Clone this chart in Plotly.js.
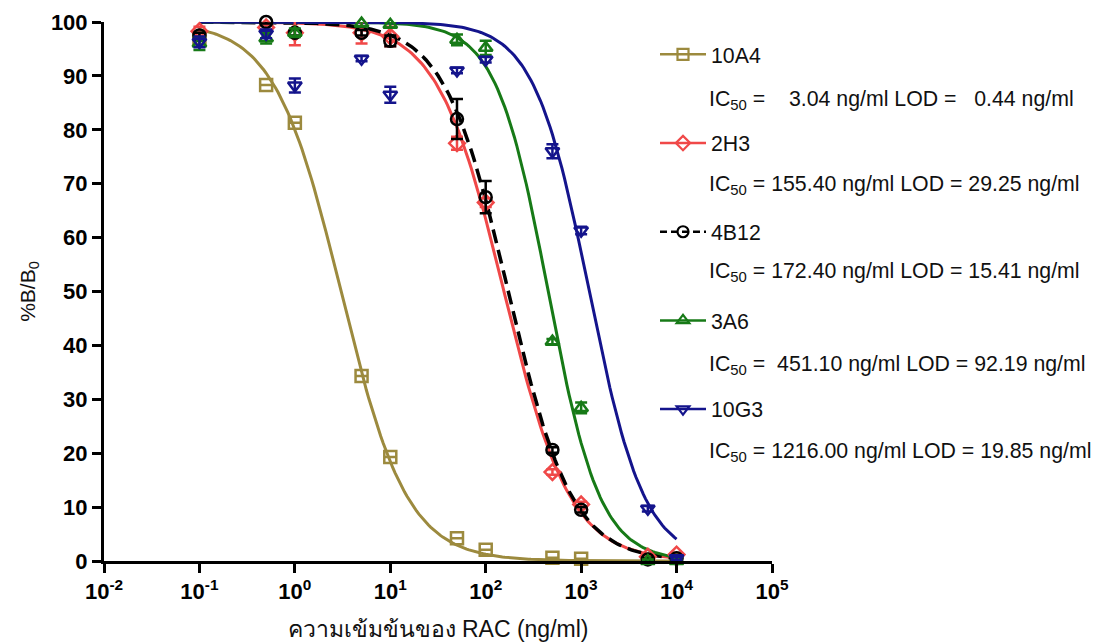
<!DOCTYPE html>
<html>
<head>
<meta charset="utf-8">
<script src="https://cdn.plot.ly/plotly-3.0.1.min.js"></script>
<style>html,body{margin:0;padding:0;background:#fff;}#chart{width:1105px;height:643px;}</style>
</head>
<body>
<div id="chart"></div>
<script>
// ---- data ----
var conc = [0.1, 0.5, 1, 5, 10, 50, 100, 500, 1000, 5000, 10000];
var names = ['10A4', '2H3', '4B12', '3A6', '10G3'];
var colors = ['#9c8a3e', '#f04848', '#000000', '#177a17', '#14148c'];
var symbols = ['square-open', 'diamond-open', 'circle-open', 'triangle-up-open', 'triangle-down-open'];
var dashes = ['solid', 'solid', 'dash', 'solid', 'solid'];

var y10A4 = [97.0, 88.3, 81.3, 34.3, 19.3, 4.2, 2.1, 0.6, 0.4, null, null];
var y2H3  = [98.3, 99.0, 98.0, 98.0, 97.3, 77.5, 66.5, 16.5, 10.5, 0.8, 1.2];
var y4B12 = [97.5, 100.0, 98.0, 98.0, 96.5, 82.0, 67.5, 20.6, 9.5, 0.3, 0.5];
var y3A6  = [96.0, 97.0, 98.0, 99.7, 99.5, 96.7, 95.2, 40.7, 28.4, 0.0, 0.0];
var y10G3 = [96.3, 97.8, 88.2, 93.2, 86.5, 91.0, 93.0, 76.0, 61.3, 9.7, 0.5];

var e10A4 = [0, 0, 0, 0, 0, 0, 0, 0, 0, 0, 0];
var e2H3  = [0.8, 0.5, 2.3, 2.0, 1.8, 1.2, 0.8, 0.5, 0.5, 0.3, 0.3];
var e4B12 = [0.5, 0.3, 0.5, 0.5, 1.0, 3.7, 3.0, 0.5, 0.5, 0.3, 0.3];
var e3A6  = [1.2, 1.0, 0.8, 0.5, 0.5, 1.0, 1.3, 0.5, 1.0, 0.3, 0.3];
var e10G3 = [1.0, 0.8, 1.3, 0.5, 1.5, 0.5, 0.5, 1.3, 0.7, 0.5, 0.3];

// fitted four-parameter logistic curves (IC50 as stated on chart)
var ic50  = [3.04, 155.40, 172.40, 451.10, 1216.00];
var hill  = [1.25, 1.25, 1.3, 1.6, 1.5];
var topV  = [100, 100, 100, 100, 100];
var botV  = [0, 0, 0, 0, 0];
var icText = ['\u00a0\u00a0 3.04', '155.40', '172.40', '\u00a0451.10', '1216.00'];
var lodText = ['\u00a0 0.44', '29.25', '15.41', '92.19', '19.85'];

var xTickVals = [0.01, 0.1, 1, 10, 100, 1000, 10000, 100000];
var xTickText = ['10<sup>-2</sup>', '10<sup>-1</sup>', '10<sup>0</sup>', '10<sup>1</sup>', '10<sup>2</sup>', '10<sup>3</sup>', '10<sup>4</sup>', '10<sup>5</sup>'];
var yTickVals = [0, 10, 20, 30, 40, 50, 60, 70, 80, 90, 100];

var yData = [y10A4, y2H3, y4B12, y3A6, y10G3];
var eData = [e10A4, e2H3, e4B12, e3A6, e10G3];

// ---- build traces ----
var curveX = [];
for (var k = 0; k <= 200; k++) curveX.push(Math.pow(10, -1 + 5 * k / 200));

var traces = [];
for (var i = 0; i < names.length; i++) {
  var cy = curveX.map(function (x) {
    return botV[i] + (topV[i] - botV[i]) / (1 + Math.pow(x / ic50[i], hill[i]));
  });
  traces.push({
    x: curveX, y: cy, type: 'scatter', mode: 'lines',
    line: {color: colors[i], width: dashes[i] === 'dash' ? 3.5 : 3, dash: dashes[i] === 'dash' ? '14px,7px' : 'solid'},
    showlegend: false, hoverinfo: 'skip'
  });
}
for (var i = 0; i < names.length; i++) {
  traces.push({
    x: conc, y: yData[i], type: 'scatter', mode: 'markers',
    marker: {symbol: symbols[i], size: 12, color: colors[i], line: {width: 2.5, color: colors[i]}},
    error_y: {type: 'data', array: eData[i], visible: true, color: colors[i], thickness: 2.5, width: 6},
    cliponaxis: false, showlegend: false
  });
}
// legend entries
for (var i = 0; i < names.length; i++) {
  traces.push({
    x: [null], y: [null], type: 'scatter', mode: 'lines+markers', name: names[i],
    legendgroup: 'g' + i,
    line: {color: colors[i], width: 2.5, dash: dashes[i] === 'dash' ? '7px,4px' : 'solid'},
    marker: {symbol: symbols[i], size: 11, color: colors[i], line: {width: 2.2, color: colors[i]}}
  });
}

var icY = [100, 185, 272, 365, 452];
var annotations = [];
for (var i = 0; i < names.length; i++) {
  annotations.push({
    xref: 'paper', yref: 'paper', xanchor: 'left', yanchor: 'middle',
    x: (707 - 104) / 668, y: 1 - (icY[i] - 22) / 539,
    text: 'IC<sub>50</sub> = ' + icText[i] + ' ng/ml LOD = ' + lodText[i] + ' ng/ml',
    showarrow: false,
    font: {family: 'Liberation Sans, Arial, sans-serif', size: 21.3, color: '#111'}
  });
}

var layout = {
  width: 1105, height: 643,
  margin: {l: 104, r: 333, t: 22, b: 82},
  paper_bgcolor: '#fff', plot_bgcolor: '#fff',
  font: {family: 'Liberation Sans, Arial, sans-serif', color: '#000'},
  xaxis: {
    type: 'log', range: [-2, 5], tickmode: 'array', tickvals: xTickVals, ticktext: xTickText,
    showline: true, linewidth: 3, linecolor: '#000', ticks: 'outside', ticklen: 9, tickwidth: 3, tickcolor: '#000',
    showgrid: false, zeroline: false,
    tickfont: {family: 'Liberation Sans, Arial, sans-serif', size: 22, weight: 'bold', color: '#000'},
    title: {text: 'ความเข้มข้นของ RAC (ng/ml)', font: {family: 'Liberation Sans, Noto Sans, DejaVu Sans, sans-serif', size: 23, color: '#111'}, standoff: 18}
  },
  yaxis: {
    range: [0, 100], tickmode: 'array', tickvals: yTickVals,
    showline: true, linewidth: 3, linecolor: '#000', ticks: 'outside', ticklen: 9, tickwidth: 3, tickcolor: '#000',
    showgrid: false, zeroline: false,
    tickfont: {family: 'Liberation Sans, Arial, sans-serif', size: 22, weight: 'bold', color: '#000'},
    title: {text: '%B/B<sub>0</sub>', font: {family: 'Liberation Sans, Arial, sans-serif', size: 21, color: '#111'}, standoff: 10}
  },
  legend: {
    x: (655 - 104) / 668, xanchor: 'left', y: 1 - (34 - 22) / 539, yanchor: 'top',
    bgcolor: 'rgba(0,0,0,0)', borderwidth: 0,
    font: {family: 'Liberation Sans, Arial, sans-serif', size: 21.3, color: '#111'},
    traceorder: 'grouped', tracegroupgap: 58, itemwidth: 46
  },
  annotations: annotations,
  showlegend: true
};

Plotly.newPlot('chart', traces, layout, {displayModeBar: false, staticPlot: true});
</script>
</body>
</html>
